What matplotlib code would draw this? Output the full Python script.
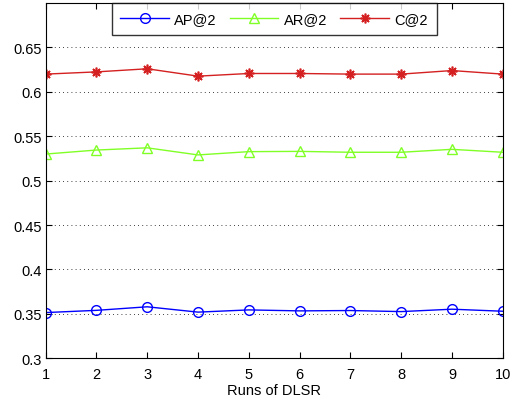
import matplotlib.pyplot as plt

plt.rcParams['font.family'] = ['Liberation Sans', 'DejaVu Sans']

runs = [1, 2, 3, 4, 5, 6, 7, 8, 9, 10]
ap2 = [0.3515, 0.354, 0.358, 0.352, 0.3545, 0.3534, 0.3538, 0.3526, 0.3553, 0.353]
ar2 = [0.530, 0.5345, 0.537, 0.529, 0.5327, 0.533, 0.532, 0.532, 0.5353, 0.532]
c2 = [0.620, 0.6225, 0.626, 0.6177, 0.6207, 0.6207, 0.620, 0.620, 0.624, 0.620]

yticks = [0.3, 0.35, 0.4, 0.45, 0.5, 0.55, 0.6, 0.65]
ylabels = ['0.3', '0.35', '0.4', '0.45', '0.5', '0.55', '0.6', '0.65']

fig = plt.figure(figsize=(5.11, 4.06), dpi=100)
ax = fig.add_axes([0.0894, 0.115, 0.8944, 0.875])

ax.plot(runs, ap2, color='#0000ff', marker='o', mfc='none', ms=7, mew=1, lw=1, label='AP@2')
ax.plot(runs, ar2, color='#80ff26', marker='^', mfc='none', ms=7, mew=1, lw=1, label='AR@2')
ax.plot(runs, c2, color='#d42020', marker=(8, 2, 0), ms=7, mew=1.2, lw=1, label='C@2')

ax.set_xlim(1, 10)
ax.set_ylim(0.3, 0.7)
ax.set_xticks(runs)
ax.set_yticks(yticks)
ax.set_yticklabels(ylabels)
ax.tick_params(direction='in', top=True, right=True, labelsize=10.5, length=4)
ax.tick_params(axis='x', pad=6)
ax.tick_params(axis='y', pad=3)
ax.yaxis.grid(True, linestyle=(0, (1, 4)), color='black', lw=0.6)
ax.set_xlabel('Runs of DLSR', fontsize=10.5, labelpad=2)
for s in ax.spines.values():
    s.set_linewidth(0.8)

leg = ax.legend(loc='upper center', ncol=3, fontsize=10.5, frameon=True, fancybox=False,
                edgecolor='black', borderaxespad=0, handlelength=3.3, columnspacing=0.9,
                borderpad=0.6, handletextpad=0.4)
leg.get_frame().set_linewidth(1)

fig.savefig('out.png', dpi=100)
